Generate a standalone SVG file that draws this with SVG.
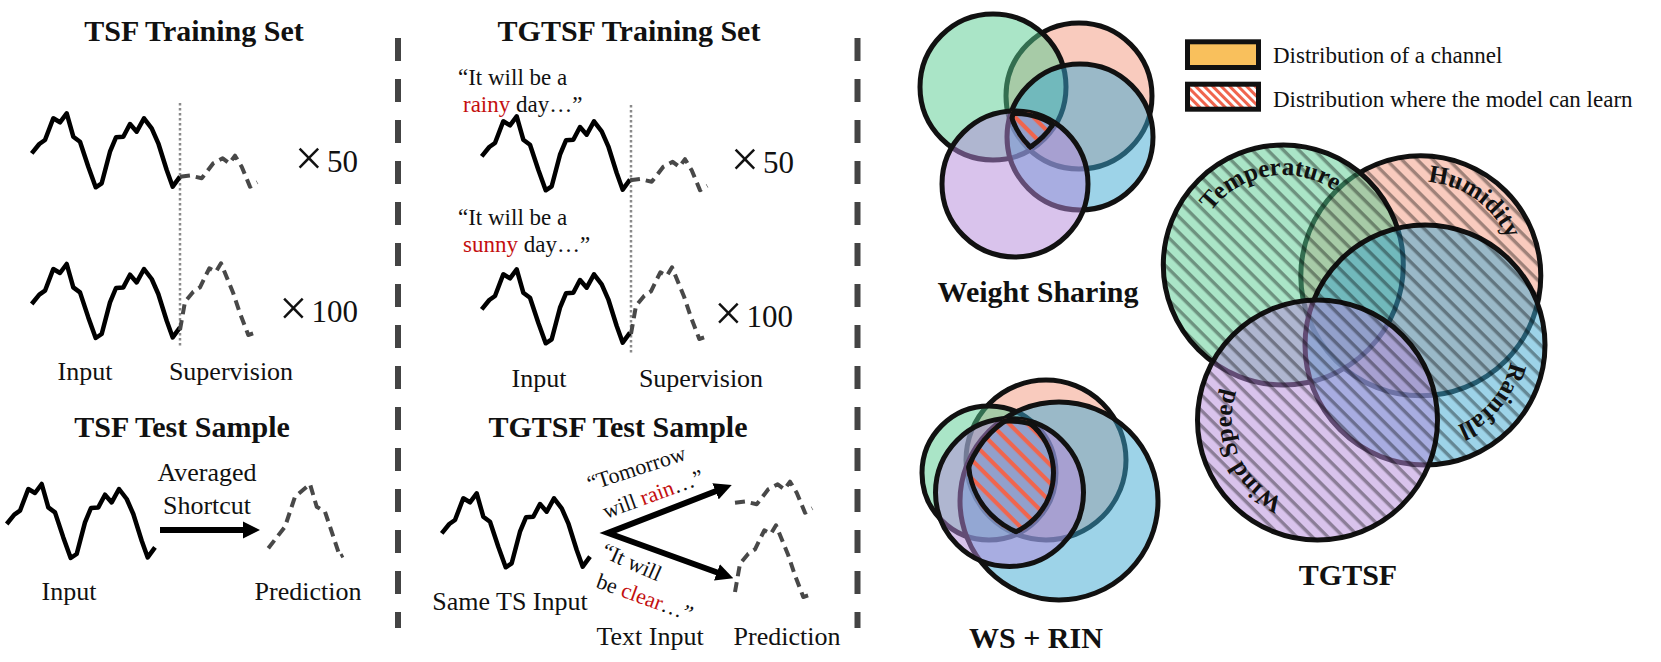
<svg xmlns="http://www.w3.org/2000/svg" xmlns:xlink="http://www.w3.org/1999/xlink" width="1661" height="662" viewBox="0 0 1661 662">
<style>
text{font-family:"Liberation Serif","Times New Roman",serif;fill:#111}
.title{font-size:30px;font-weight:bold;text-anchor:middle}
.lbl{font-size:26px;text-anchor:middle}
.q{font-size:23px}
.qa{font-size:22px}
.leg{font-size:23px}
.mult{font-size:31px;text-anchor:end}
.vl{font-size:25px;font-weight:bold;text-anchor:middle}
.red{fill:#c40f0f}
.ts{fill:none;stroke:#000;stroke-width:4.5;stroke-linejoin:round}
.sup{fill:none;stroke:#484848;stroke-width:4;stroke-dasharray:10 6;stroke-linejoin:round}
.div{stroke:#444;stroke-width:6;stroke-dasharray:23 18}
.dot{stroke:#8a8a8a;stroke-width:2.5;stroke-dasharray:2.5 2.5}
.v{fill-opacity:.5;stroke:#111;stroke-width:5}
.cs{fill:#f3977d}.cg{fill:#55cb8f}.cb{fill:#3ba7d1}.cp{fill:#b387d9}
.lo{fill:none;stroke:#111;stroke-width:10}
.arr{fill:none;stroke:#000;stroke-width:6;stroke-linejoin:miter}
</style>
<defs>
<path id="tsIn" d="M31.7,153.3 L39.3,144 L45,140 L53.3,118.3 L60,122.3 L66.7,113.3 L73.3,136.7 L80,141.7 L88.3,166.7 L95.7,187.3 L101.7,183.3 L110,151.7 L116,137.3 L123.3,136.7 L130,124 L136.7,131.7 L144,118.3 L151.7,128.3 L158.3,143.3 L166.7,170 L172.7,186.7 L180,176.7"/>
<path id="sup1" d="M180,176.7 L190,175.5 L201.7,178.3 L213.3,163.3 L222.7,158.3 L229.3,163.3 L235,155.7 L241.7,166.7 L250,186.7 L257.3,182.3"/>
<path id="sup2" d="M180,330 L185,301.7 L193.3,291.7 L200,287.3 L209.3,268.3 L216,271.7 L221,263.3 L233.3,293.3 L240,313.3 L248.3,335 L256.7,332.3"/>
<marker id="ah" viewBox="0 0 10 10" refX="4" refY="5" markerWidth="2.9" markerHeight="2.9" orient="auto-start-reverse" markerUnits="strokeWidth"><path d="M0,0 L10,5 L0,10 z" fill="#000"/></marker>
<pattern id="hatch" patternUnits="userSpaceOnUse" width="11" height="11" patternTransform="rotate(45)"><rect x="0" y="0" width="11" height="3.4" fill="#000" fill-opacity="0.36"/></pattern>
<pattern id="redhatch" patternUnits="userSpaceOnUse" width="13" height="13" patternTransform="rotate(45)"><rect x="0" y="0" width="13" height="4.2" fill="#f0654e"/></pattern>
<pattern id="leghatch" patternUnits="userSpaceOnUse" width="6" height="6" patternTransform="rotate(45)"><rect x="0" y="0" width="6" height="6" fill="#fff"/><rect x="0" y="0" width="6" height="3" fill="#f0654e"/></pattern>
<clipPath id="wsS"><circle cx="1079" cy="96" r="73"/></clipPath>
<clipPath id="wsG"><circle cx="993" cy="87" r="73"/></clipPath>
<clipPath id="wsB"><circle cx="1080" cy="137" r="73"/></clipPath>
<clipPath id="wsP"><circle cx="1015" cy="184" r="73"/></clipPath>
<clipPath id="wrS"><circle cx="1046" cy="460" r="80"/></clipPath>
<clipPath id="wrG"><circle cx="989" cy="473" r="67"/></clipPath>
<clipPath id="wrB"><circle cx="1059" cy="501" r="99"/></clipPath>
<clipPath id="wrP"><circle cx="1009.5" cy="492.5" r="74"/></clipPath>
<clipPath id="tgU"><circle cx="1420.8" cy="275.8" r="120"/><circle cx="1283.3" cy="265" r="120"/><circle cx="1425" cy="345" r="120"/><circle cx="1317.5" cy="420" r="120"/></clipPath>
<path id="pTemp" d="M1193.6,271.9 A90,90 0 0 1 1370.5,242.6"/>
<path id="pHum" d="M1349.3,214.8 A94,94 0 0 1 1501.8,323.5"/>
<path id="pRain" d="M1486.1,283.1 A87,87 0 0 1 1375.6,416.6"/>
<path id="pWind" d="M1345.5,501.3 A86,86 0 0 1 1275.8,344.8"/>
</defs>
<rect width="1661" height="662" fill="#fff"/>

<g id="dividers">
<line class="div" x1="398" y1="38" x2="398" y2="628"/>
<line class="div" x1="857.5" y1="38" x2="857.5" y2="628"/>
</g>

<g id="tsf-training">
<text class="title" x="194" y="41">TSF Training Set</text>
<line class="dot" x1="180" y1="103" x2="180" y2="347"/>
<use href="#tsIn" class="ts"/>
<use href="#sup1" class="sup"/>
<use href="#tsIn" class="ts" transform="translate(0,150.7)"/>
<use href="#sup2" class="sup"/>
<text class="mult" x="358" y="172"><tspan font-size="50" dy="3">×</tspan><tspan dx="4" dy="-3">50</tspan></text>
<text class="mult" x="358" y="322"><tspan font-size="50" dy="3">×</tspan><tspan dx="4" dy="-3">100</tspan></text>
<text class="lbl" x="85" y="380">Input</text>
<text class="lbl" x="231" y="380">Supervision</text>
</g>

<g id="tgtsf-training">
<text class="title" x="629" y="41">TGTSF Training Set</text>
<line class="dot" x1="631" y1="105" x2="631" y2="353"/>
<text class="q" x="458" y="85">“It will be a</text>
<text class="q" x="463" y="111.7"><tspan class="red">rainy</tspan> day…”</text>
<use href="#tsIn" class="ts" transform="translate(450,3)"/>
<use href="#sup1" class="sup" transform="translate(450,3.5)"/>
<text class="q" x="458" y="225">“It will be a</text>
<text class="q" x="463" y="251.7"><tspan class="red">sunny</tspan> day…”</text>
<use href="#tsIn" class="ts" transform="translate(450,156)"/>
<use href="#sup2" class="sup" transform="translate(451,4)"/>
<text class="mult" x="794" y="173.3"><tspan font-size="50" dy="3">×</tspan><tspan dx="4" dy="-3">50</tspan></text>
<text class="mult" x="793" y="326.7"><tspan font-size="50" dy="3">×</tspan><tspan dx="4" dy="-3">100</tspan></text>
<text class="lbl" x="539" y="386.7">Input</text>
<text class="lbl" x="701" y="386.7">Supervision</text>
</g>

<g id="tsf-test">
<text class="title" x="182" y="437">TSF Test Sample</text>
<use href="#tsIn" class="ts" transform="translate(-25,370.7)"/>
<text class="lbl" x="207" y="481">Averaged</text>
<text class="lbl" x="207" y="514">Shortcut</text>
<path class="sup" d="M268.3,548.3 L285,526.7 L295,496.7 L310,484 L316.7,506.7 L325,511.7 L340,556.7 L343.3,555"/>
<text class="lbl" x="69" y="600">Input</text>
<text class="lbl" x="308" y="600">Prediction</text>
</g>

<g id="tgtsf-test">
<text class="title" x="618" y="437">TGTSF Test Sample</text>
<use href="#tsIn" class="ts" transform="translate(410,380)"/>
<text class="qa" transform="translate(590,491) rotate(-18)">“Tomorrow</text>
<text class="qa" transform="translate(606,519) rotate(-20)">will <tspan class="red">rain</tspan>…”</text>
<text class="qa" transform="translate(600,556) rotate(24)">“It will</text>
<text class="qa" transform="translate(595,587) rotate(20)">be <tspan class="red">clear</tspan>…”</text>
<use href="#sup1" class="sup" transform="translate(555,326)"/>
<use href="#sup2" class="sup" transform="translate(555,262)"/>
<text class="lbl" x="510" y="610">Same TS Input</text>
<text class="lbl" x="650" y="645">Text Input</text>
<text class="lbl" x="787" y="645">Prediction</text>
</g>

<g id="connectors">
<line class="arr" x1="160" y1="530" x2="249.6" y2="530" marker-end="url(#ah)"/>
<path class="arr" d="M722,488.8 L608,533 L723.5,574.8" marker-start="url(#ah)" marker-end="url(#ah)"/>
</g>

<g id="legend">
<rect x="1187.5" y="41.8" width="71" height="25.7" fill="#f9c05c" stroke="#111" stroke-width="5"/>
<text class="leg" x="1273" y="62.7">Distribution of a channel</text>
<rect x="1187.5" y="84.2" width="71" height="25" fill="url(#leghatch)" stroke="#111" stroke-width="5"/>
<text class="leg" x="1273" y="107.3">Distribution where the model can learn</text>
</g>

<g id="weight-sharing">
<circle class="v cs" cx="1079" cy="96" r="73"/>
<circle class="v cg" cx="993" cy="87" r="73"/>
<circle class="v cb" cx="1080" cy="137" r="73"/>
<circle class="v cp" cx="1015" cy="184" r="73"/>
<g clip-path="url(#wsS)"><g clip-path="url(#wsG)"><g clip-path="url(#wsB)"><g clip-path="url(#wsP)">
<rect x="900" y="0" width="260" height="260" fill="url(#redhatch)"/>
<circle class="lo" cx="1079" cy="96" r="73"/>
<circle class="lo" cx="993" cy="87" r="73"/>
<circle class="lo" cx="1080" cy="137" r="73"/>
<circle class="lo" cx="1015" cy="184" r="73"/>
</g></g></g></g>
<text class="title" x="1038" y="302">Weight Sharing</text>
</g>

<g id="ws-rin">
<circle class="v cs" cx="1046" cy="460" r="80"/>
<circle class="v cg" cx="989" cy="473" r="67"/>
<circle class="v cb" cx="1059" cy="501" r="99"/>
<circle class="v cp" cx="1009.5" cy="492.5" r="74"/>
<g clip-path="url(#wrS)"><g clip-path="url(#wrG)"><g clip-path="url(#wrB)"><g clip-path="url(#wrP)">
<rect x="900" y="370" width="260" height="260" fill="url(#redhatch)"/>
<circle class="lo" cx="1046" cy="460" r="80"/>
<circle class="lo" cx="989" cy="473" r="67"/>
<circle class="lo" cx="1059" cy="501" r="99"/>
<circle class="lo" cx="1009.5" cy="492.5" r="74"/>
</g></g></g></g>
<text class="title" x="1036" y="648">WS + RIN</text>
</g>

<g id="tgtsf-venn">
<circle class="v cs" cx="1420.8" cy="275.8" r="120"/>
<circle class="v cg" cx="1283.3" cy="265" r="120"/>
<circle class="v cb" cx="1425" cy="345" r="120"/>
<circle class="v cp" cx="1317.5" cy="420" r="120"/>
<rect x="1150" y="140" width="410" height="420" fill="url(#hatch)" clip-path="url(#tgU)"/>
<text class="vl"><textPath href="#pTemp" startOffset="50%">Temperature</textPath></text>
<text class="vl"><textPath href="#pHum" startOffset="50%">Humidity</textPath></text>
<text class="vl"><textPath href="#pRain" startOffset="50%">Rainfall</textPath></text>
<text class="vl"><textPath href="#pWind" startOffset="50%">Wind Speed</textPath></text>
<text class="title" x="1348" y="585">TGTSF</text>
</g>
</svg>
